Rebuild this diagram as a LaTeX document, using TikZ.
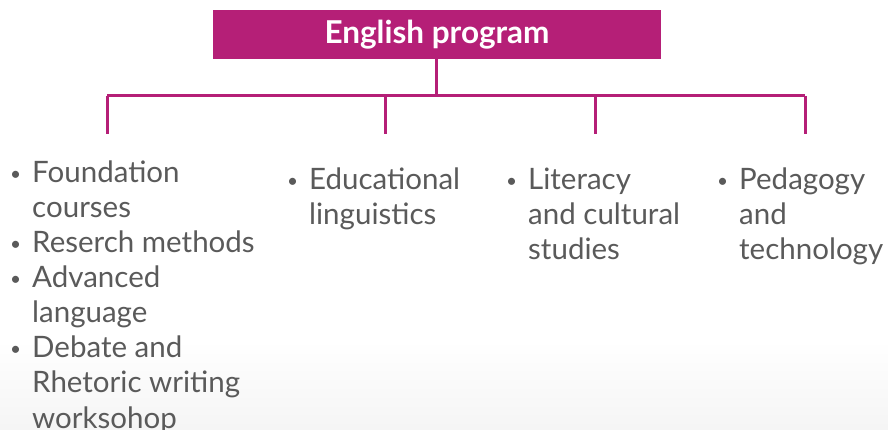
\documentclass[tikz,border=0pt]{standalone}
\usepackage{fontspec}
\setmainfont{Lato}
\definecolor{magenta1}{RGB}{181,31,119}
\definecolor{textgray}{RGB}{90,90,90}
\tikzset{
  title/.style={fill=magenta1, text=white, font=\fontsize{31.5}{36}\selectfont\bfseries, minimum width=448pt, minimum height=49pt, inner sep=0pt},
  conn/.style={draw=magenta1, line width=3pt},
  itemcol/.style={anchor=base west, inner sep=0pt, text=textgray, font=\fontsize{29.5}{35}\selectfont}
}
\newcommand{\bul}{\makebox[23pt][l]{\hspace{1pt}\raisebox{2pt}{\fontsize{19}{19}\selectfont\textbullet}}}
\begin{document}
\begin{tikzpicture}[x=1pt,y=-1pt]
\useasboundingbox (0,0) rectangle (888,430);
\shade[top color=white, bottom color=black!4] (0,340) rectangle (888,430);
\node[title] (t) at (437,34.5) {\raisebox{-2.5pt}{English program}};
\coordinate (j) at (436,96);
\coordinate (b1) at (107,134);
\coordinate (b2) at (385,134);
\coordinate (b3) at (595,134);
\coordinate (b4) at (805,134);
\draw[conn] (t.south -| j) -- (j);
\draw[conn] (b1 |- j) -- (b4 |- j);
\foreach \b in {b1,b2,b3,b4} \draw[conn] (\b |- j) -- (\b);
\node[itemcol] (c1) at (9,183) {\begin{tabular}[t]{@{}l@{}l@{}}
\bul & Foundation\\ & courses\\
\bul & Reserch methods\\
\bul & Advanced\\ & language\\
\bul & Debate and\\ & Rhetoric writing\\ & worksohop
\end{tabular}};
\node[itemcol] (c2) at (286,190) {\begin{tabular}[t]{@{}l@{}l@{}}
\bul & Educational\\ & linguistics
\end{tabular}};
\node[itemcol] (c3) at (505,190) {\begin{tabular}[t]{@{}l@{}l@{}}
\bul & Literacy\\ & and cultural\\ & studies
\end{tabular}};
\node[itemcol] (c4) at (716,190) {\begin{tabular}[t]{@{}l@{}l@{}}
\bul & Pedagogy\\ & and\\ & technology
\end{tabular}};
\end{tikzpicture}
\end{document}
